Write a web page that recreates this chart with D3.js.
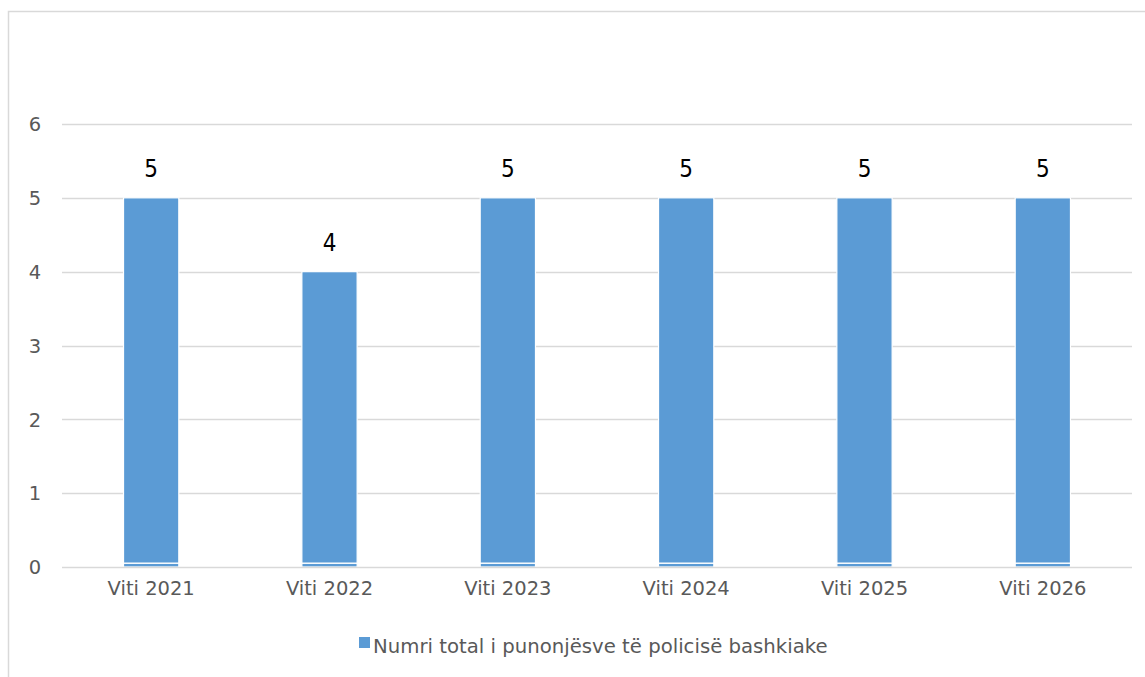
<!DOCTYPE html>
<html><head><meta charset="utf-8">
<script src="https://cdn.jsdelivr.net/npm/d3@7"></script>
<style>body{margin:0;background:#fff;} svg{display:block;}</style>
</head><body>
<svg id="c" width="1145" height="677"></svg>
<script>
const categories = ["Viti 2021","Viti 2022","Viti 2023","Viti 2024","Viti 2025","Viti 2026"];
const values = [5,4,5,5,5,5];
const baseStrip = [0.05,0.05,0.05,0.05,0.05,0.05];
const yTicks = [0,1,2,3,4,5,6];
const seriesName = "Numri total i punonjësve të policisë bashkiake";

const svg = d3.select("#c");
const font = "'DejaVu Sans', sans-serif";
const x = d3.scaleBand().domain(categories).range([62,1132]).paddingInner(0.69).paddingOuter(0.345);
const y = d3.scaleLinear().domain([0,6]).range([567,124]);

svg.append("rect").attr("x",8.5).attr("y",11.5).attr("width",1200).attr("height",700)
  .attr("fill","none").attr("stroke","#d9d9d9").attr("stroke-width",1.5);

const grid = svg.append("g");
grid.selectAll("line").data(yTicks.filter(d=>d>0)).join("line")
  .attr("x1",62).attr("x2",1132).attr("y1",d=>Math.round(y(d))+0.5).attr("y2",d=>Math.round(y(d))+0.5)
  .attr("stroke","#d9d9d9").attr("stroke-width",1.5);

const yAxis = d3.axisLeft(y).tickValues(yTicks).tickSize(0).tickPadding(0).tickFormat(d3.format("d"));
const ga = svg.append("g").attr("transform","translate(35,0)").call(yAxis);
ga.select(".domain").remove();
ga.selectAll("text").attr("font-family",font).attr("font-size",19.5).attr("fill","#595959").attr("text-anchor","middle").attr("dy","0.35em");

const bars = svg.append("g");
bars.selectAll("rect.main").data(categories).join("rect").attr("class","main")
  .attr("x",d=>x(d)).attr("width",x.bandwidth())
  .attr("y",(d,i)=>y(values[i])).attr("height",(d,i)=>y(baseStrip[i])-y(values[i]))
  .attr("fill","#5b9bd5").attr("stroke","#fff").attr("stroke-width",1.2);
bars.selectAll("rect.strip").data(categories).join("rect").attr("class","strip")
  .attr("x",d=>x(d)).attr("width",x.bandwidth())
  .attr("y",(d,i)=>y(baseStrip[i])).attr("height",(d,i)=>y(0)-y(baseStrip[i]))
  .attr("fill","#5b9bd5").attr("stroke","#fff").attr("stroke-width",1.2);

const xAxis = d3.axisBottom(x).tickSize(0).tickPadding(0);
const gx = svg.append("g").attr("transform","translate(0,567)").call(xAxis);
gx.select(".domain").attr("stroke","#d9d9d9").attr("stroke-width",1.5).attr("d","M62,0.5H1132");
gx.selectAll("text").attr("font-family",font).attr("font-size",19.5).attr("fill","#595959").attr("y",21).attr("dy","0.35em");

svg.append("g").selectAll("text").data(categories).join("text")
  .attr("x",d=>x(d)+x.bandwidth()/2).attr("y",(d,i)=>y(values[i])-21)
  .attr("text-anchor","middle").attr("font-family","'DejaVu Sans Condensed', 'DejaVu Sans', sans-serif").attr("font-size",24).attr("fill","#000")
  .text((d,i)=>values[i]);

const lg = svg.append("g");
lg.append("rect").attr("x",359).attr("y",637).attr("width",11).attr("height",11).attr("fill","#5b9bd5");
lg.append("text").attr("x",373).attr("y",653).attr("font-family",font).attr("font-size",19.7).attr("fill","#595959").text(seriesName);
</script>
</body></html>
